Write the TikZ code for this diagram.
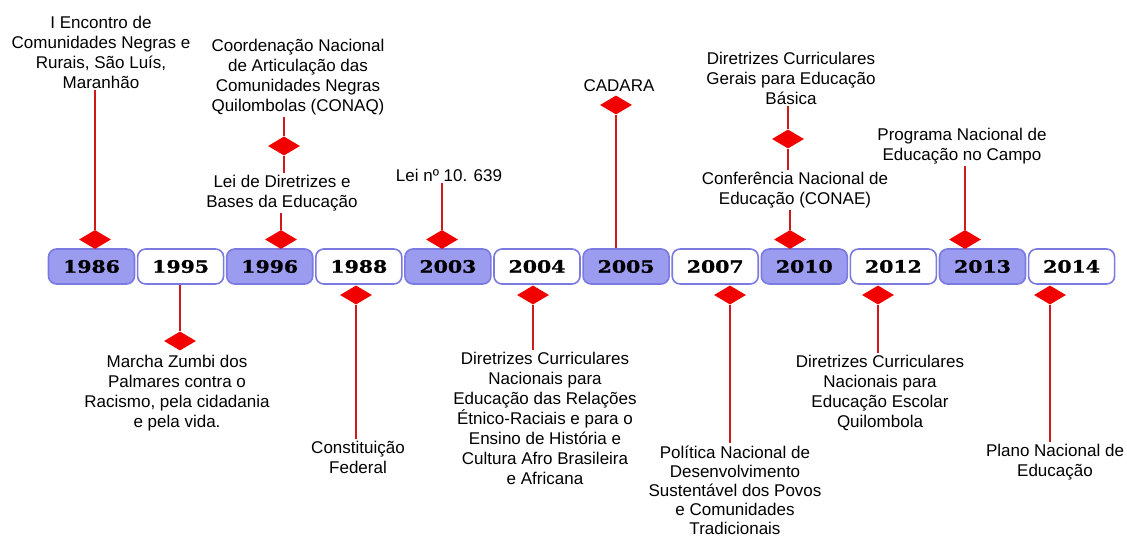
\documentclass[tikz,border=0pt]{standalone}
\usepackage{fontspec}
\setmainfont{Liberation Sans}
\newfontfamily\yearfont{DejaVu Serif Bold}[FakeStretch=1.2, FakeBold=1.2]
\usetikzlibrary{positioning, shapes.geometric}
\definecolor{yearfill}{HTML}{9B9BEF}
\definecolor{yearedge}{HTML}{7A7AE0}
\definecolor{gemred}{HTML}{F20000}
\definecolor{stemred}{HTML}{D01A1A}
\tikzset{
  ybox/.style={rectangle, rounded corners=8pt, draw=yearedge, fill=#1, line width=1.6pt,
               minimum width=86pt, minimum height=35pt, inner sep=0pt,
               font=\yearfont\fontsize{17}{17}\selectfont},
  ybox/.default=yearfill,
  gem/.style={diamond, fill=gemred, minimum width=32pt, minimum height=19pt, inner sep=0pt},
  stem/.style={draw=stemred, line width=2.4pt},
  lbl/.style={align=center, inner sep=2pt, font=\fontsize{17}{20}\selectfont},
}
\begin{document}
\begin{tikzpicture}[x=1pt, y=-1pt]
  \useasboundingbox (0,0) rectangle (1127,540);

  % year strip
  \node[ybox] (y1986) at (91.5,266.5) {1986};
  \node[ybox=white, right=1.5pt of y1986] (y1995) {1995};
  \node[ybox, right=1.5pt of y1995] (y1996) {1996};
  \node[ybox=white, right=1.5pt of y1996] (y1988) {1988};
  \node[ybox, right=1.5pt of y1988] (y2003) {2003};
  \node[ybox=white, right=1.5pt of y2003] (y2004) {2004};
  \node[ybox, right=1.5pt of y2004] (y2005) {2005};
  \node[ybox=white, right=1.5pt of y2005] (y2007) {2007};
  \node[ybox, right=1.5pt of y2007] (y2010) {2010};
  \node[ybox=white, right=1.5pt of y2010] (y2012) {2012};
  \node[ybox, right=1.5pt of y2012] (y2013) {2013};
  \node[ybox=white, right=1.5pt of y2013] (y2014) {2014};

  % events above
  \node[lbl] (l1986) at (101,52) {I Encontro de\\Comunidades Negras e\\Rurais, São Luís,\\Maranhão};
  \node[lbl] (lconaq) at (298,77) {Coordenação Nacional\\de Articulação das\\Comunidades Negras\\Quilombolas (CONAQ)};
  \node[lbl] (lldb) at (282,193) {Lei de Diretrizes e\\Bases da Educação};
  \node[lbl] (l2003) at (449,175) {Lei nº 10. 639};
  \node[lbl] (lcadara) at (619,86) {CADARA};
  \node[lbl] (ldcnb) at (791,78) {Diretrizes Curriculares\\Gerais para Educação\\Básica};
  \node[lbl] (lconae) at (795,190) {Conferência Nacional de\\Educação (CONAE)};
  \node[lbl] (lcampo) at (962,146) {Programa Nacional de\\Educação no Campo};

  % events below
  \node[lbl] (l1995) at (177,393) {Marcha Zumbi dos\\Palmares contra o\\Racismo, pela cidadania\\e pela vida.};
  \node[lbl] (l1988) at (358,457) {Constituição\\Federal};
  \node[lbl] (l2004) at (545,418) {Diretrizes Curriculares\\Nacionais para\\Educação das Relações\\Étnico-Raciais e para o\\Ensino de História e\\Cultura Afro Brasileira\\e Africana};
  \node[lbl, font=\fontsize{17}{19}\selectfont] (l2007) at (735,490) {Política Nacional de\\Desenvolvimento\\Sustentável dos Povos\\e Comunidades\\Tradicionais};
  \node[lbl] (l2012) at (880,392.5) {Diretrizes Curriculares\\Nacionais para\\Educação Escolar\\Quilombola};
  \node[lbl] (l2014) at (1055,462) {Plano Nacional de\\Educação};

  % markers
  \node[gem] (d1986) at (95,239.5) {};
  \node[gem] (d1996a) at (281,239.5) {};
  \node[gem] (d1996b) at (284,146) {};
  \node[gem] (d2003) at (442,239.5) {};
  \node[gem] (dcadara) at (616,105) {};
  \node[gem] (d2010a) at (790,239.5) {};
  \node[gem] (d2010b) at (788,139) {};
  \node[gem] (d2013) at (965,239.5) {};
  \node[gem] (d1995) at (180,341) {};
  \node[gem] (d1988) at (356,295) {};
  \node[gem] (d2004) at (533,295) {};
  \node[gem] (d2007) at (730,295) {};
  \node[gem] (d2012) at (878,295) {};
  \node[gem] (d2014) at (1050,295) {};

  \draw[stem] (d1986) -- (d1986 |- l1986.south);
  \draw[stem] (d1996a) -- (d1996a |- lldb.south);
  \draw[stem] (d1996b |- lldb.north) -- (d1996b);
  \draw[stem] (d1996b) -- (d1996b |- lconaq.south);
  \draw[stem] (d2003) -- (d2003 |- l2003.south);
  \draw[stem] (dcadara) -- (dcadara |- y2005.north);
  \draw[stem] (d2010a) -- (d2010a |- lconae.south);
  \draw[stem] (d2010b |- lconae.north) -- (d2010b);
  \draw[stem] (d2010b) -- (d2010b |- ldcnb.south);
  \draw[stem] (d2013) -- (d2013 |- lcampo.south);
  \draw[stem] (d1995 |- y1995.south) -- (d1995);
  \draw[stem] (d1988) -- (d1988 |- l1988.north);
  \draw[stem] (d2004) -- (d2004 |- l2004.north);
  \draw[stem] (d2007) -- (d2007 |- l2007.north);
  \draw[stem] (d2012) -- (d2012 |- l2012.north);
  \draw[stem] (d2014) -- (d2014 |- l2014.north);
\end{tikzpicture}
\end{document}
